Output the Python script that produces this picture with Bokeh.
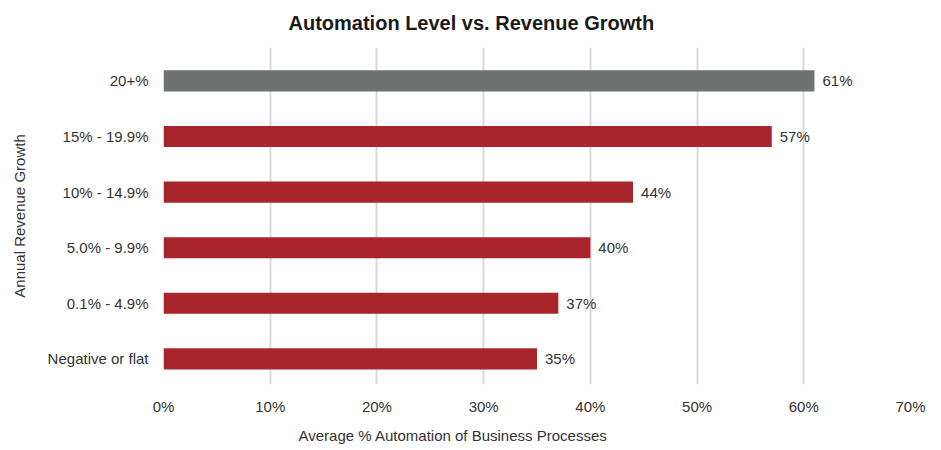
from bokeh.plotting import figure
from bokeh.models import ColumnDataSource, Range1d, FixedTicker, NumeralTickFormatter, Title
from bokeh.embed import file_html
from bokeh.resources import INLINE
from bokeh.core.properties import value

categories = ["Negative or flat", "0.1% - 4.9%", "5.0% - 9.9%", "10% - 14.9%", "15% - 19.9%", "20+%"]
values = [35, 37, 40, 44, 57, 61]
bar_colors = ["#A8262B", "#A8262B", "#A8262B", "#A8262B", "#A8262B", "#6E7273"]
x_ticks = [0, 10, 20, 30, 40, 50, 60, 70]

FONT = "Liberation Sans"
TXT = "#333333"
FS = "15px"

ypos = list(range(len(categories)))
src = ColumnDataSource(dict(
    y=ypos, v=[x / 100 for x in values], c=bar_colors,
    lbl=[f"{x}%" for x in values],
))

p = figure(width=935, height=450, output_backend="svg", toolbar_location=None,
           x_range=Range1d(0, 0.70), y_range=Range1d(-0.46, 5.60),
           min_border_left=163, min_border_right=25, min_border_top=47, min_border_bottom=64)
p.outline_line_color = None
p.background_fill_color = "white"
p.border_fill_color = "white"

p.hbar(y="y", right="v", left=0, height=0.38, color="c", source=src, line_color=None)
p.text(x="v", y="y", text="lbl", source=src, x_offset=8, text_baseline="middle",
       text_align="left", text_font=value(FONT), text_font_size=FS, text_color=TXT)

p.xaxis.ticker = FixedTicker(ticks=[t / 100 for t in x_ticks])
p.xaxis.formatter = NumeralTickFormatter(format="0%")
p.yaxis.ticker = FixedTicker(ticks=ypos)
p.yaxis.major_label_overrides = {i: c for i, c in enumerate(categories)}

for ax in (p.xaxis, p.yaxis):
    ax.axis_line_color = None
    ax.major_tick_line_color = None
    ax.minor_tick_line_color = None
    ax.major_tick_out = 0
    ax.major_tick_in = 0
    ax.minor_tick_out = 0
    ax.minor_tick_in = 0
    ax.major_label_text_font = FONT
    ax.major_label_text_font_size = FS
    ax.major_label_text_color = TXT
    ax.axis_label_text_font = FONT
    ax.axis_label_text_font_size = FS
    ax.axis_label_text_color = TXT
    ax.axis_label_text_font_style = "normal"

p.xaxis.major_label_standoff = 13
p.yaxis.major_label_standoff = 15
p.yaxis.axis_label = "Annual Revenue Growth"
p.yaxis.axis_label_standoff = 17

p.xgrid.grid_line_color = "#d9d9d9"
p.xgrid.grid_line_width = 2
p.ygrid.grid_line_color = None

p.title.text = "Automation Level vs. Revenue Growth"
p.title.align = "left"
p.title.offset = 125
p.title.vertical_align = "top"
p.title.text_font = FONT
p.title.text_font_size = "20px"
p.title.text_font_style = "bold"
p.title.text_color = "#1a1a1a"
p.title.standoff = 23

p.add_layout(Title(text="Average % Automation of Business Processes", align="left", offset=135,
                   text_font=FONT, text_font_size=FS, text_font_style="normal",
                   text_color=TXT, standoff=14), "below")

open("out.html", "w").write(file_html(p, INLINE))
